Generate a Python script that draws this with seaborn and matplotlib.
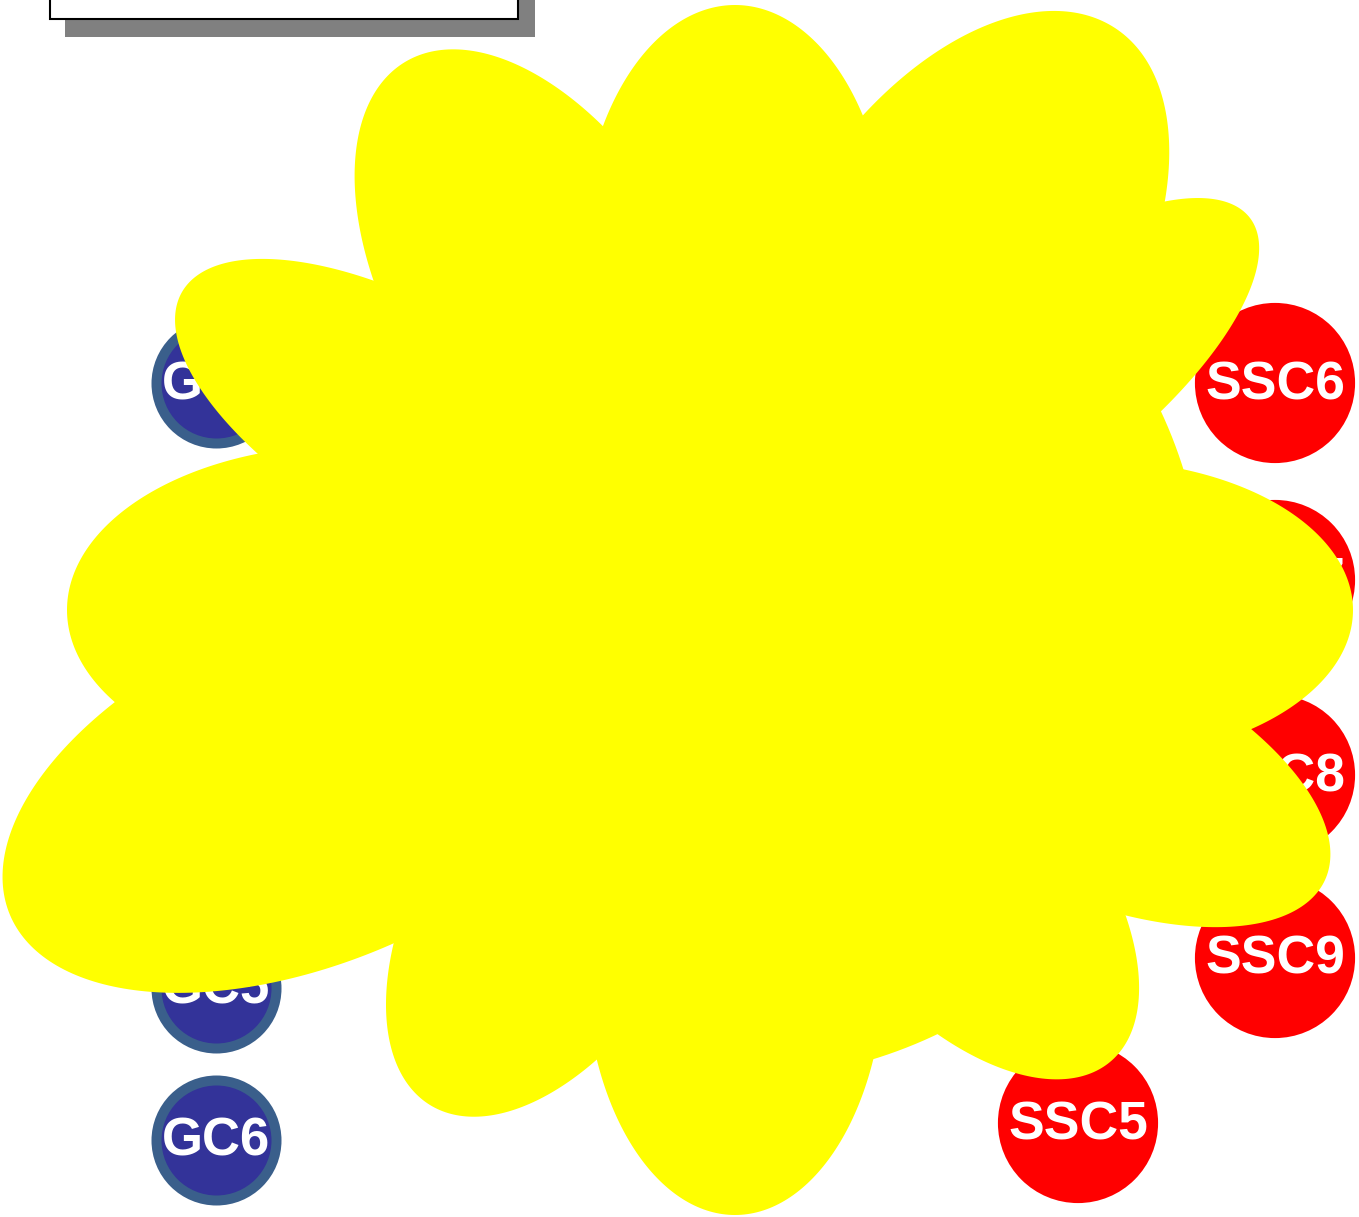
import numpy as np
import pandas as pd
import matplotlib
matplotlib.use("Agg")
import matplotlib.pyplot as plt
from matplotlib.patches import Rectangle
import seaborn as sns

# nodos (posiciones en pixeles de la imagen)
gc_labels = ["GC1", "GC2", "GC3", "GC4", "GC5", "GC6"]
gc_x = [216, 216, 216, 216, 216, 216]
gc_y = [383, 534, 685, 837, 988, 1140]

ssc_labels = ["SSC6", "SSC7", "SSC8", "SSC9", "SSC5"]
ssc_x = [1275, 1275, 1275, 1275, 1078]
ssc_y = [383, 580, 775, 958, 1123]

# mancha amarilla: centro y puntas de los lobulos
blob_cx, blob_cy = 735, 610
lobe_tip_x = [735, 405, 1115, 1250, 182, 67, 10, 430, 735, 1110, 1325, 1353]
lobe_tip_y = [5, 62, 28, 218, 292, 610, 915, 1105, 1215, 1062, 880, 610]
lobe_width = [155, 150, 170, 105, 115, 165, 175, 135, 150, 130, 125, 150]

sns.set_style("white")
fig = plt.figure(figsize=(13.59, 12.17), dpi=100)
ax = fig.add_axes([0, 0, 1, 1])
ax.set_xlim(0, 1359)
ax.set_ylim(1217, 0)
ax.axis("off")

# caja de leyenda con sombra (cortada arriba)
ax.add_patch(Rectangle((65, -40), 470, 77, facecolor="#808080", edgecolor="none", zorder=1))
ax.add_patch(Rectangle((50, -40), 468, 59, facecolor="white", edgecolor="black", lw=1.5, zorder=2))

# nodos GC
gc = pd.DataFrame({"x": gc_x, "y": gc_y, "lab": gc_labels})
sns.scatterplot(data=gc, x="x", y="y", s=7465, color="#333399", edgecolor="#3A5F8B",
                linewidth=7.2, ax=ax, zorder=3, legend=False)
for _, r in gc.iterrows():
    ax.text(r.x, r.y + 2, r.lab, color="white", fontsize=38, fontweight="bold",
            family="Liberation Sans", ha="center", va="center", zorder=4)

# nodos SSC
ssc = pd.DataFrame({"x": ssc_x, "y": ssc_y, "lab": ssc_labels})
sns.scatterplot(data=ssc, x="x", y="y", s=13300, color="#FF0000", edgecolor="none",
                ax=ax, zorder=3, legend=False)
for _, r in ssc.iterrows():
    ax.text(r.x, r.y + 2, r.lab, color="white", fontsize=38.5, fontweight="bold",
            family="Liberation Sans", ha="center", va="center", zorder=4)

# mancha amarilla: disco central + lobulos elipticos
t = np.linspace(0, 2 * np.pi, 300)
ax.fill(blob_cx + 470 * np.cos(t), blob_cy + 470 * np.sin(t), color="#FFFF00", lw=0, zorder=5)
for tx, ty, w in zip(lobe_tip_x, lobe_tip_y, lobe_width):
    dx, dy = tx - blob_cx, ty - blob_cy
    L = np.hypot(dx, dy)
    ang = np.arctan2(dy, dx)
    a = 0.42 * L
    c = L - a
    ex = c + a * np.cos(t)
    ey = w * np.sin(t)
    px = blob_cx + ex * np.cos(ang) - ey * np.sin(ang)
    py = blob_cy + ex * np.sin(ang) + ey * np.cos(ang)
    ax.fill(px, py, color="#FFFF00", lw=0, zorder=5)

fig.savefig("out.png", dpi=100)
